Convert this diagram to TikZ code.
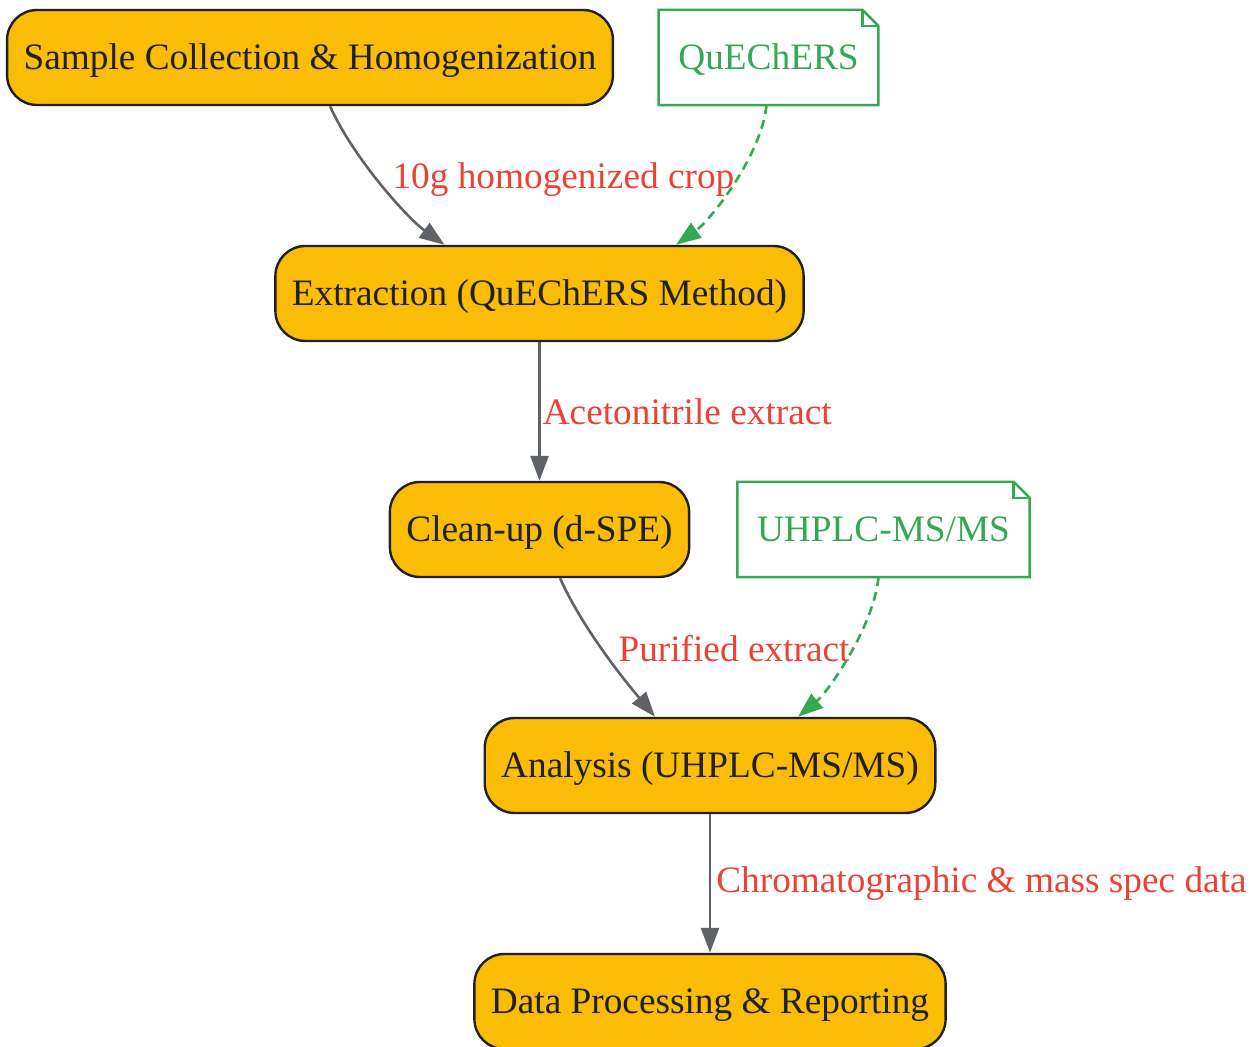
\documentclass[tikz,border=0pt]{standalone}
\usepackage{fontspec}
\setmainfont{Liberation Serif}
\usetikzlibrary{arrows.meta}
\definecolor{stagefill}{HTML}{FBBC05}
\definecolor{darktext}{HTML}{202124}
\definecolor{edgegray}{HTML}{5F6368}
\definecolor{lblred}{HTML}{EA4335}
\definecolor{notegreen}{HTML}{34A853}
\tikzstyle{stage} = [rectangle, rounded corners=30pt, minimum height=95pt, inner xsep=16.5pt,
text height=33pt, text depth=8pt,
text centered, draw=darktext, line width=2.4pt, fill=stagefill, text=darktext,
font=\fontsize{37.3}{44}\selectfont]
\tikzstyle{note} = [rectangle, minimum height=95pt, inner xsep=19.5pt, text=notegreen,
text height=33pt, text depth=8pt,
font=\fontsize{37.3}{44}\selectfont]
\tikzstyle{notebd} = [draw=notegreen, line width=2.4pt]
\tikzstyle{arrow} = [line width=2.6pt, draw=edgegray, -{Triangle[length=25pt,width=18pt]}, edgegray]
\tikzstyle{usearrow} = [line width=2.6pt, draw=notegreen, dash pattern=on 9pt off 6pt,
-{Triangle[length=25pt,width=18pt]}, notegreen]
\tikzstyle{elabel} = [text=lblred, inner sep=3pt, font=\fontsize{37.3}{44}\selectfont]
% folded-corner outline round a note node
\newcommand{\foldnote}[1]{%
\draw[notebd] (#1.south west) -- (#1.south east) -- ([yshift=-16pt]#1.north east)
  -- ([xshift=-16pt]#1.north east) -- (#1.north west) -- cycle;
\draw[notebd] ([xshift=-16pt]#1.north east) |- ([yshift=-16pt]#1.north east);}

\begin{document}
\begin{tikzpicture}[x=1pt, y=1pt, node distance=236pt]
\useasboundingbox (0,0) rectangle (1251,1047);

\node (sample) [stage] at (310,989.5) {Sample Collection \& Homogenization};
\node (extract) [stage, below of=sample, xshift=229.5pt] {Extraction (QuEChERS Method)};
\node (cleanup) [stage, below of=extract] {Clean-up (d-SPE)};
\node (analysis) [stage, below of=cleanup, xshift=170.5pt] {Analysis (UHPLC-MS/MS)};
\node (report) [stage, below of=analysis] {Data Processing \& Reporting};

\node (quechers) [note, right of=sample, xshift=222.5pt] {QuEChERS};
\node (uhplc) [note, right of=cleanup, xshift=108pt] {UHPLC-MS/MS};
\foldnote{quechers}
\foldnote{uhplc}

\draw [arrow] ([xshift=20pt]sample.south) .. controls +(25,-55) and +(-35,25) ..
  node[elabel, anchor=west, pos=0.45, xshift=11pt] {10g homogenized crop} ([xshift=-95pt]extract.north);
\draw [usearrow] ([xshift=-2pt]quechers.south) .. controls +(-5,-50) and +(35,25) ..
  ([xshift=136.5pt]extract.north);
\draw [arrow] (extract) -- node[elabel, anchor=west, inner xsep=2pt] {Acetonitrile extract} (cleanup);
\draw [arrow] ([xshift=20.5pt]cleanup.south) .. controls +(25,-55) and +(-25,30) ..
  node[elabel, anchor=west, pos=0.44, xshift=13pt] {Purified extract} ([xshift=-55pt]analysis.north);
\draw [usearrow] ([xshift=-5pt]uhplc.south) .. controls +(-5,-50) and +(30,25) ..
  ([xshift=88pt]analysis.north);
\draw [arrow] (analysis) -- node[elabel, anchor=west, inner xsep=5pt] {Chromatographic \& mass spec data} (report);

\end{tikzpicture}
\end{document}
